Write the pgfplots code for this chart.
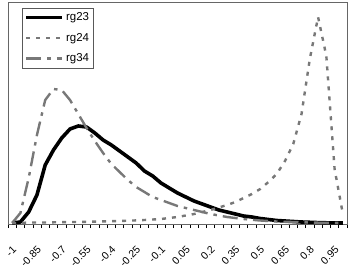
\documentclass[border=0pt]{standalone}
\usepackage{fontspec}
\setmainfont{Liberation Sans}
\usepackage{pgfplots}
\usepackage{pgfplotstable}
\pgfplotsset{compat=1.18}
\pgfplotstableread{
i rgA rgB rgC
0 0 0 0
1 1 0 10
2 11 0.5 45
3 28 0.5 88
4 58 0.5 123
5 73 0.7 134
6 85 0.8 133
7 94 1 123
8 97 1 109
9 96 1.2 95
10 90 1.4 82
11 83 1.6 70
12 78 1.8 59
13 72 2 51
14 66 2.3 43
15 60 2.6 36
16 52 3 31
17 47 3.5 26
18 40 4 23
19 35 5 20
20 30 6 17
21 26 7.5 15
22 22 9 13
23 19 11 11
24 16 13 9
25 13 15.5 7.5
26 11 18 6
27 9 21 5
28 7 25 4
29 6 29 3.2
30 4.5 34 2.5
31 3.5 41 2
32 2.5 49 1.5
33 2 62 1.2
34 1.5 79 1
35 1 109 0.7
36 0.7 164 0.5
37 0.4 206 0.3
38 0.2 167 0.2
39 0.1 54 0.1
40 0 9 0
}\data
\definecolor{lg}{RGB}{120,120,120}
\begin{document}
\begin{tikzpicture}
\begin{axis}[
  name=ax,
  scale only axis,
  width=339bp, height=222bp,
  xmin=-0.5, xmax=40.5, ymin=-1, ymax=221,
  axis line style={draw=gray!80!black, line width=0.8bp},
  ytick=\empty,
  xtick={0,3,...,39},
  xticklabels={-1,-0.85,-0.7,-0.55,-0.4,-0.25,-0.1,0.05,0.2,0.35,0.5,0.65,0.8,0.95},
  major tick length=0pt,
  minor xtick={-0.5,0.5,...,40.5},
  minor tick length=4bp,
  xtick pos=bottom,
  tick align=outside,
  minor tick style={draw=black, line width=0.6bp},
  xticklabel style={xshift=2.5bp, yshift=-24bp, rotate=45, anchor=east, font=\fontsize{10.5}{11}\selectfont, inner sep=0pt},
  legend style={at={(rel axis cs:0.042,0.975)}, anchor=north west, draw=gray!70!black, line width=0.7bp,
    font=\fontsize{11.5}{12}\selectfont, row sep=7bp, inner xsep=2bp, inner ysep=3bp},
  legend cell align=left,
  legend image code/.code={\draw[#1] (0bp,0bp) -- (36bp,0bp);},
]
\addplot[black, line width=3.6bp, line join=round] table[x=i,y=rgA] {\data};
\addlegendentry{rg23}
\addplot[lg, line width=2.4bp, dash pattern=on 4bp off 6bp] table[x=i,y=rgB] {\data};
\addlegendentry{rg24}
\addplot[lg, line width=2.4bp, dash pattern=on 15bp off 6bp on 3.5bp off 6bp] table[x=i,y=rgC] {\data};
\addlegendentry{rg34}
\end{axis}
\path[use as bounding box] ([xshift=-8bp,yshift=-42bp]ax.south west) rectangle ([xshift=3bp,yshift=2bp]ax.north east);
\end{tikzpicture}
\end{document}
